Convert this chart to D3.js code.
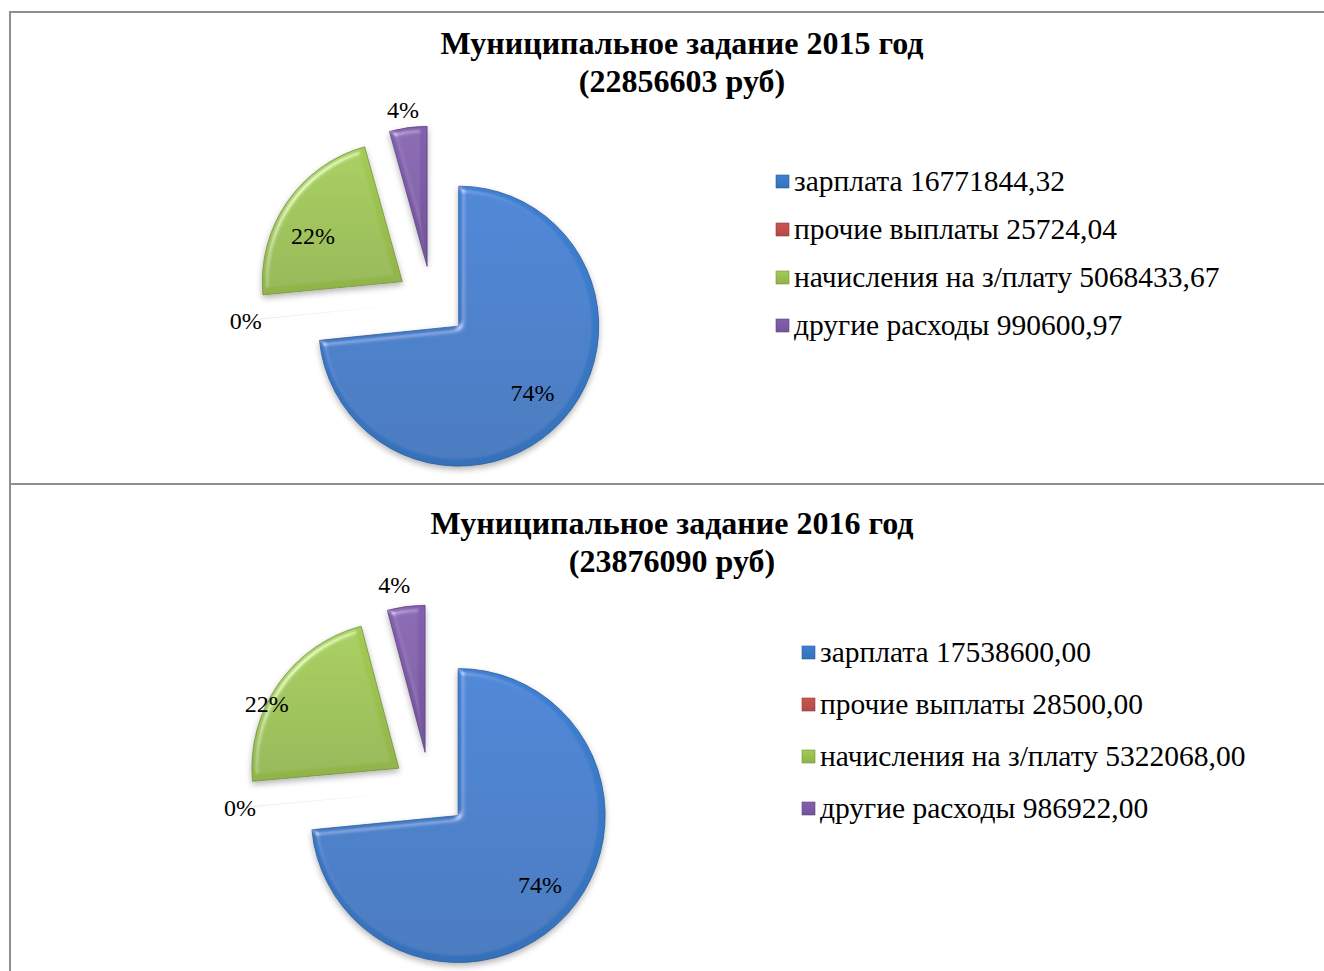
<!DOCTYPE html>
<html>
<head>
<meta charset="utf-8">
<script src="https://cdn.jsdelivr.net/npm/d3@7"></script>
<style>
  body { margin: 0; background: #fff; }
  text { font-family: "Liberation Serif", "Times New Roman", serif; fill: #000; }
</style>
</head>
<body>
<div id="chart"></div>
<script>
// Data
var categories = ["зарплата", "прочие выплаты", "начисления на з/плату", "другие расходы"];
var values2015 = [16771844.32, 25724.04, 5068433.67, 990600.97];
var values2016 = [17538600.00, 28500.00, 5322068.00, 986922.00];
// percent labels as printed on the chart
var labels2015 = ["74%", "0%", "22%", "4%"];
var labels2016 = ["74%", "0%", "22%", "4%"];
var title2015 = ["Муниципальное задание 2015 год", "(22856603 руб)"];
var title2016 = ["Муниципальное задание 2016 год", "(23876090 руб)"];
var sliceColors = ["#3a79c8", "#c0504d", "#9bc04f", "#7d5aa6"];

var width = 1324, height = 971;

var svg = d3.select("#chart")
  .append("svg")
  .attr("width", width)
  .attr("height", height);

var defs = svg.append("defs");

// bevel + shadow look of the office pie
var f = defs.append("filter").attr("id", "bevel")
  .attr("x", "-20%").attr("y", "-20%").attr("width", "140%").attr("height", "140%");
f.append("feGaussianBlur").attr("in", "SourceAlpha").attr("stdDeviation", 3).attr("result", "blur");
f.append("feSpecularLighting").attr("in", "blur").attr("surfaceScale", 4)
  .attr("specularConstant", 0.4).attr("specularExponent", 30)
  .attr("lighting-color", "#ffffff").attr("result", "spec")
  .append("feDistantLight").attr("azimuth", 225).attr("elevation", 45);
f.append("feComposite").attr("in", "spec").attr("in2", "SourceAlpha").attr("operator", "in").attr("result", "specIn");
f.append("feComposite").attr("in", "SourceGraphic").attr("in2", "specIn").attr("operator", "arithmetic")
  .attr("k1", 0).attr("k2", 1).attr("k3", 1).attr("k4", 0).attr("result", "lit");
f.append("feGaussianBlur").attr("in", "SourceAlpha").attr("stdDeviation", 3).attr("result", "sblur");
f.append("feOffset").attr("in", "sblur").attr("dx", 0).attr("dy", 3).attr("result", "soff");
f.append("feComponentTransfer").attr("in", "soff").attr("result", "shadow")
  .append("feFuncA").attr("type", "linear").attr("slope", 0.3);
var fm = f.append("feMerge");
fm.append("feMergeNode").attr("in", "shadow");
fm.append("feMergeNode").attr("in", "lit");

sliceColors.forEach(function(c, i) {
  var g = defs.append("linearGradient").attr("id", "grad" + i)
    .attr("x1", 0).attr("y1", 0).attr("x2", 0).attr("y2", 1);
  g.append("stop").attr("offset", "0%").attr("stop-color", d3.color(c).brighter(0.15));
  g.append("stop").attr("offset", "100%").attr("stop-color", d3.color(c).darker(0.2));
});

// frames
svg.append("rect").attr("x", 10).attr("y", 12).attr("width", 1330).attr("height", 472)
  .attr("fill", "none").attr("stroke", "#8e8e8e").attr("stroke-width", 2);
svg.append("rect").attr("x", 10).attr("y", 484).attr("width", 1330).attr("height", 500)
  .attr("fill", "none").attr("stroke", "#8e8e8e").attr("stroke-width", 2);

var money = function(v) { return d3.format(".2f")(v).replace(".", ","); };

function drawChart(cfg) {
  var total = d3.sum(cfg.values);
  var pie = d3.pie().sort(null).value(function(d) { return d; });
  var arc = d3.arc().innerRadius(0).outerRadius(cfg.r);
  var arcs = pie(cfg.values);

  var title = svg.append("text")
    .attr("x", cfg.titleX)
    .attr("y", cfg.titleY)
    .attr("text-anchor", "middle")
    .style("font-weight", "bold")
    .style("font-size", "32px");
  title.selectAll("tspan").data(cfg.title).enter().append("tspan")
    .attr("x", cfg.titleX)
    .attr("dy", function(d, i) { return i ? 38 : 0; })
    .text(function(d) { return d; });

  var g = svg.append("g").attr("transform", "translate(" + cfg.cx + "," + cfg.cy + ")");

  var slices = g.selectAll(".slice").data(arcs).enter().append("g")
    .attr("class", "slice")
    .attr("transform", function(d) {
      var a = (d.startAngle + d.endAngle) / 2;
      return "translate(" + (cfg.explode * Math.sin(a)) + "," + (-cfg.explode * Math.cos(a)) + ")";
    });

  slices.append("path")
    .attr("d", arc)
    .attr("fill", function(d, i) { return "url(#grad" + i + ")"; })
    .attr("fill-opacity", function(d) { return d.value / total < 0.01 ? 0.15 : 1; })
    .attr("stroke", function(d, i) { return d3.color(sliceColors[i]).darker(0.8); })
    .attr("stroke-width", function(d) { return d.value / total < 0.01 ? 0 : 0.8; })
    .attr("filter", "url(#bevel)");

  slices.append("text")
    .attr("text-anchor", "middle")
    .attr("dy", "0.35em")
    .style("font-size", "24px")
    .attr("transform", function(d, i) {
      var p = cfg.labelPos[i];
      var a = (d.startAngle + d.endAngle) / 2 + p[1] * Math.PI / 180;
      var lr = cfg.r * p[0];
      return "translate(" + (lr * Math.sin(a)) + "," + (-lr * Math.cos(a)) + ")";
    })
    .text(function(d, i) { return cfg.labels[i]; });

  var legend = svg.append("g").attr("transform", "translate(" + cfg.legendX + "," + cfg.legendY + ")");
  var items = legend.selectAll(".item").data(cfg.values).enter().append("g")
    .attr("class", "item")
    .attr("transform", function(d, i) { return "translate(0," + (i * cfg.legendStep) + ")"; });
  items.append("rect")
    .attr("x", 0).attr("y", -6).attr("width", 13).attr("height", 13)
    .attr("fill", function(d, i) { return "url(#grad" + i + ")"; })
    .attr("stroke", function(d, i) { return d3.color(sliceColors[i]).darker(0.8); })
    .attr("stroke-width", 0.6);
  items.append("text")
    .attr("x", 18)
    .attr("dy", "0.35em")
    .style("font-size", "29.5px")
    .text(function(d, i) { return categories[i] + " " + money(d); });
}

drawChart({
  values: values2015, labels: labels2015, title: title2015,
  titleX: 682, titleY: 54,
  cx: 432, cy: 302, r: 140, explode: 36,
  labelPos: [[0.71, 0], [1.08, 0], [0.72, -7], [1.13, -1]],
  legendX: 776, legendY: 181, legendStep: 48
});

drawChart({
  values: values2016, labels: labels2016, title: title2016,
  titleX: 672, titleY: 534,
  cx: 430, cy: 790, r: 147, explode: 38,
  labelPos: [[0.73, -2], [1.04, 0], [1.0, -9], [1.16, -3]],
  legendX: 802, legendY: 652, legendStep: 52
});
</script>
</body>
</html>
